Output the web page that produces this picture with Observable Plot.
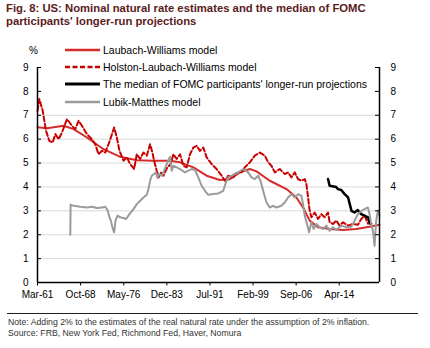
<!DOCTYPE html>
<html><head><meta charset="utf-8">
<script src="https://cdn.jsdelivr.net/npm/d3@7"></script>
<script src="https://cdn.jsdelivr.net/npm/@observablehq/plot@0.6"></script>
<style>
body{margin:0;background:#fff;font-family:"Liberation Sans",Arial,sans-serif;}
#wrap{position:relative;width:430px;height:348px;overflow:hidden;background:#fff;}
#title{position:absolute;left:6px;top:2px;font-weight:bold;font-size:11.3px;line-height:12.8px;color:#5a1c1c;white-space:nowrap;}
#chart{position:absolute;left:0;top:36px;}
#pct{position:absolute;left:29px;top:45px;font-size:10px;color:#000;}
.row{position:absolute;left:65px;height:14px;display:flex;align-items:center;font-size:10.5px;color:#000;white-space:nowrap;}
.row svg{margin-right:3px;}
#rule{position:absolute;left:7px;top:313px;width:411px;height:0;border-top:1px solid #222;}
#foot{position:absolute;left:8px;top:317px;font-size:8.7px;line-height:11px;color:#333;white-space:nowrap;}
</style></head><body>
<div id="wrap">
<div id="title">Fig. 8: US: Nominal natural rate estimates and the median of FOMC<br>participants' longer-run projections</div>
<div id="chart"></div>
<div id="pct">%</div>
<div id="legend"></div>
<div id="rule"></div>
<div id="foot">Note: Adding 2% to the estimates of the real natural rate under the assumption of 2% inflation.<br>Source: FRB, New York Fed, Richmond Fed, Haver, Nomura</div>
</div>
<script>
// ---- data (decimal years, % values) ----
const seriesNames = ["Laubach-Williams model","Holston-Laubach-Williams model","The median of FOMC participants' longer-run projections","Lubik-Matthes model"];

const lwYears = [1961.17,1962.84,1965.76,1967.52,1969.86,1972.78,1975.70,1978.63,1981.56,1984.48,1986.24,1988.58,1990.92,1993.26,1995.01,1996.77,1998.52,1999.69,2002.03,2004.96,2006.71,2007.88,2009.05,2010.51,2012.56,2014.90,2017.24,2019.58,2021.33];
const lwValues = [6.50,6.46,6.56,6.42,6.07,5.58,5.26,5.12,5.10,5.10,5.03,4.82,4.47,4.29,4.32,4.61,4.75,4.65,4.26,3.91,3.56,3.14,2.59,2.31,2.24,2.20,2.24,2.33,2.42];

const hlwYears = [1961.17,1961.48,1962.08,1962.66,1963.24,1963.83,1964.30,1964.88,1965.47,1966.35,1967.22,1967.81,1968.39,1968.98,1969.86,1970.73,1971.32,1971.90,1972.49,1973.07,1973.66,1974.07,1974.65,1975.12,1975.59,1976.29,1976.88,1977.46,1978.16,1978.63,1979.22,1979.80,1980.39,1980.97,1981.44,1981.67,1982.14,1982.49,1982.84,1983.31,1984.01,1984.60,1985.07,1985.65,1986.24,1986.82,1987.41,1987.99,1988.58,1989.16,1989.75,1990.33,1990.92,1991.79,1992.67,1993.55,1994.13,1994.72,1995.60,1996.18,1997.06,1997.64,1998.52,1999.40,2000.28,2001.15,2001.74,2002.32,2002.91,2003.79,2004.66,2005.25,2005.83,2006.42,2007.00,2007.59,2008.17,2008.47,2008.76,2009.05,2009.35,2009.93,2010.51,2011.10,2011.68,2012.27,2012.56,2013.15,2013.73,2014.32,2014.90,2015.78,2016.66,2017.53,2018.12,2018.70,2019.29,2019.87];
const hlwValues = [7.18,7.68,7.19,6.35,5.93,5.86,6.21,6.00,6.28,6.84,6.56,6.42,6.77,6.56,6.21,6.00,5.79,5.37,5.51,5.44,5.79,6.07,6.49,6.07,5.51,5.10,5.24,4.96,4.75,5.37,5.17,5.44,5.31,5.79,5.37,5.10,4.68,4.40,4.61,4.47,4.82,4.96,5.37,5.17,5.37,4.89,4.82,5.37,5.65,5.72,5.51,5.65,5.24,4.96,4.75,4.47,4.26,4.47,4.40,4.61,4.61,4.82,5.03,5.31,5.44,5.31,5.03,4.89,4.61,4.75,4.54,4.61,4.40,4.61,4.33,4.26,4.33,4.12,3.56,3.00,2.73,2.93,2.66,2.86,2.73,2.93,2.52,2.45,2.59,2.38,2.52,2.38,2.45,2.42,2.66,2.80,2.47,2.45];

const fomcYears = [2012.27,2012.56,2013.70,2014.00,2014.60,2015.20,2015.80,2016.10,2016.40,2016.95,2017.50,2018.10,2018.70,2019.30,2019.58,2019.87];
const fomcValues = [4.33,4.05,4.00,3.91,3.87,3.70,3.56,3.28,3.00,2.93,3.03,2.86,2.80,2.73,2.52,2.45];

const lmYears = [1966.93,1966.99,1967.52,1968.69,1969.86,1970.73,1971.61,1972.49,1973.07,1973.48,1973.83,1974.07,1974.42,1974.65,1974.89,1975.24,1975.71,1976.29,1976.76,1977.34,1978.05,1978.63,1979.22,1979.80,1980.39,1980.68,1980.97,1981.26,1981.67,1982.02,1982.26,1982.61,1983.02,1983.31,1983.78,1984.19,1984.48,1984.77,1985.07,1985.65,1986.24,1987.11,1987.70,1988.28,1988.87,1989.45,1990.04,1990.62,1991.21,1992.09,1992.96,1993.84,1994.31,1994.72,1995.60,1996.47,1997.35,1998.23,1998.81,1999.40,1999.98,2000.39,2000.86,2001.45,2002.03,2002.62,2003.20,2004.08,2004.66,2005.25,2005.83,2006.42,2007.00,2007.59,2007.88,2008.17,2008.58,2008.93,2009.35,2009.75,2010.22,2010.81,2011.39,2011.98,2012.56,2013.15,2013.73,2014.61,2015.49,2016.37,2016.95,2017.53,2018.12,2018.70,2019.29,2019.58,2019.87,2020.17,2020.46,2020.75,2021.04,2021.33];
const lmValues = [2.00,3.26,3.21,3.17,3.14,3.17,3.12,3.14,3.17,3.03,2.73,2.59,2.24,2.10,2.59,2.80,2.73,2.70,2.66,2.86,3.07,3.28,3.42,3.56,3.67,3.91,4.26,4.47,4.54,4.61,4.37,4.54,4.47,4.61,4.89,5.12,5.26,4.68,4.89,4.82,4.75,4.61,4.68,4.75,4.71,4.40,4.05,3.84,3.67,3.70,3.73,3.84,4.19,4.40,4.51,4.61,4.75,4.61,4.40,4.33,4.47,4.26,3.84,3.35,3.14,3.21,3.14,3.21,3.35,3.56,3.70,3.56,3.70,3.63,3.28,2.80,2.45,2.10,2.52,2.24,2.45,2.31,2.24,2.38,2.17,2.31,2.20,2.38,2.31,2.33,2.59,2.86,3.00,3.07,3.14,2.86,2.45,2.17,1.54,2.59,3.00,2.80];

const xTickMonths = ["1961-03","1968-10","1976-05","1983-12","1991-07","1999-02","2006-09","2014-04"];
const yTicks = [0,1,2,3,4,5,6,7,8,9];
const gridValues = [1,2,3,4,5,6,7];
const xStartMonth = "1961-03", xEndMonth = "2021-05";

// ---- helpers ----
const toDate = y => { const yr = Math.floor(y); const s = Date.UTC(yr,0,1), e = Date.UTC(yr+1,0,1); return new Date(s + (y-yr)*(e-s)); };
const parseM = d3.utcParse("%Y-%m");
const mk = (ys, vs) => ys.map((y,i) => ({date: toDate(y), value: vs[i]}));
const lw = mk(lwYears, lwValues), hlw = mk(hlwYears, hlwValues), fomc = mk(fomcYears, fomcValues), lm = mk(lmYears, lmValues);
const xTicks = xTickMonths.map(parseM);
const xStart = parseM(xStartMonth), xEnd = parseM(xEndMonth);

const colors = ["#d52b2b","#c80000","#000000","#9b9b9b"];
const widths = [2,2,2.5,2];
const dashes = [null,"5,2.5",null,null];

const W = 430, H = 272, mL = 37, mR = 51, mT = 31, mB = 26;
const plotW = W - mL - mR;

const chart = Plot.plot({
  width: W, height: H, marginLeft: mL, marginRight: mR, marginTop: mT, marginBottom: mB,
  style: {fontFamily: "'Liberation Sans', Arial, sans-serif", fontSize: "10px", color: "#000", background: "transparent"},
  x: {type: "utc", domain: [xStart, xEnd], label: null},
  y: {domain: [0, 9], label: null},
  marks: [
    Plot.ruleY(gridValues, {stroke: "#d9d9d9", strokeWidth: 1}),
    Plot.line(lw, {x: "date", y: "value", stroke: colors[0], strokeWidth: widths[0]}),
    Plot.line(hlw, {x: "date", y: "value", stroke: colors[1], strokeWidth: widths[1], strokeDasharray: dashes[1]}),
    Plot.line(fomc, {x: "date", y: "value", stroke: colors[2], strokeWidth: widths[2]}),
    Plot.line(lm, {x: "date", y: "value", stroke: colors[3], strokeWidth: widths[3]}),
    Plot.ruleX([xStart, xEnd], {stroke: "#000", strokeWidth: 1.5}),
    Plot.ruleY([0], {stroke: "#000", strokeWidth: 1.5}),
    Plot.tickY(yTicks, {stroke: "#000", insetRight: plotW - 4}),
    Plot.tickY(yTicks, {stroke: "#000", insetLeft: plotW - 4}),
    Plot.axisY(yTicks, {anchor: "left", tickSize: 0, tickPadding: 9}),
    Plot.axisY(yTicks, {anchor: "right", tickSize: 0, tickPadding: 11}),
    Plot.axisX(xTicks, {anchor: "bottom", tickSize: 3.5, tickPadding: 5, tickFormat: d3.utcFormat("%b-%y")})
  ]
});
document.getElementById("chart").appendChild(chart);

// ---- legend ----
const legendY = [50, 67, 84, 102];
const leg = document.getElementById("legend");
seriesNames.forEach((name, i) => {
  const row = document.createElement("div");
  row.className = "row";
  row.style.top = (legendY[i] - 7) + "px";
  const dash = dashes[i] ? ` stroke-dasharray="${dashes[i]}"` : "";
  row.innerHTML = `<svg width="35" height="6"><line x1="0" y1="3" x2="35" y2="3" stroke="${colors[i]}" stroke-width="${widths[i]+0.3}"${dash}/></svg><span></span>`;
  row.querySelector("span").textContent = name;
  leg.appendChild(row);
});
</script>
</body></html>
